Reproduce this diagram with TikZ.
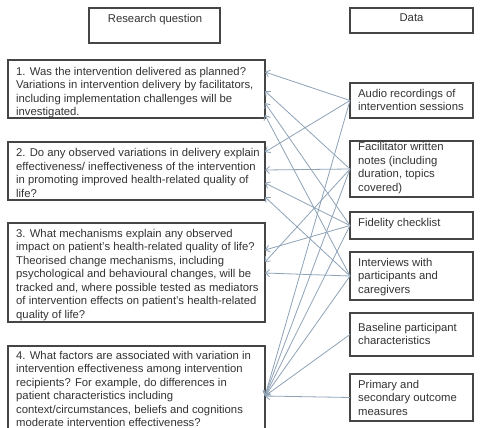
\documentclass[tikz,border=0pt]{standalone}
\usepackage{fontspec}
\setmainfont{Liberation Sans}
\usetikzlibrary{arrows.meta,calc}
\definecolor{boxline}{HTML}{454545}
\definecolor{txtcol}{HTML}{333333}
\definecolor{linkcol}{HTML}{8FA3B7}
\tikzset{
  frame/.style={draw=boxline, line width=1.1pt, inner sep=0pt, outer sep=0pt, anchor=north west},
  txtnode/.style={anchor=north west, inner sep=0pt, align=left, text=txtcol,
    font=\fontsize{11.3}{13.5}\selectfont},
  headtxt/.style={anchor=north, inner sep=0pt, text=txtcol, font=\fontsize{11.3}{13.5}\selectfont},
  link/.style={draw=linkcol, line width=0.8pt, -{Straight Barb[length=4pt,width=7pt]}}
}
\begin{document}
\begin{tikzpicture}[x=1pt,y=-1pt]
\useasboundingbox (0,0) rectangle (483,428);
\clip (0,0) rectangle (483,428);
\fill[white] (0,0) rectangle (483,428);

% column headers
\node[frame, minimum width=131, minimum height=35] (rqbox) at (89,8) {};
\node[headtxt] (rqtxt) at (155,13.8) {Research question};
\node[frame, minimum width=123, minimum height=25] (databox) at (350,8) {};
\node[headtxt] (datatxt) at (411.5,13.8) {Data};

% research questions
\node[frame, minimum width=257, minimum height=58] (q1) at (8,60) {};
\node[txtnode] (q1txt) at (16,66.8) {1. Was the intervention delivered as planned?\\
Variations in intervention delivery by facilitators,\\
including implementation challenges will be\\
investigated.};

\node[frame, minimum width=257, minimum height=58] (q2) at (8,142) {};
\node[txtnode] (q2txt) at (16,148.5) {2. Do any observed variations in delivery explain\\
effectiveness/ ineffectiveness of the intervention\\
in promoting improved health-related quality of\\
life?};

\node[frame, minimum width=257, minimum height=99] (q3) at (8,223) {};
\node[txtnode] (q3txt) at (16,228.8) {3. What mechanisms explain any observed\\
impact on patient’s health-related quality of life?\\
Theorised change mechanisms, including\\
psychological and behavioural changes, will be\\
tracked and, where possible tested as mediators\\
of intervention effects on patient’s health-related\\
quality of life?};

\node[frame, minimum width=257, minimum height=90] (q4) at (8,346) {};
\node[txtnode] (q4txt) at (16,350.8) {4. What factors are associated with variation in\\
intervention effectiveness among intervention\\
recipients? For example, do differences in\\
patient characteristics including\\
context/circumstances, beliefs and cognitions\\
moderate intervention effectiveness?};

% data sources
\node[frame, minimum width=123, minimum height=35] (audio) at (350,83) {};
\node[txtnode] (audiotxt) at (358,88.8) {Audio recordings of\\intervention sessions};

\node[frame, minimum width=123, minimum height=56] (notes) at (350,141) {};
\node[txtnode] (notestxt) at (358,142.5) {Facilitator written\\notes (including\\duration, topics\\covered)};

\node[frame, minimum width=123, minimum height=27] (fidel) at (350,212) {};
\node[txtnode] (fideltxt) at (358,218) {Fidelity checklist};

\node[frame, minimum width=123, minimum height=48] (interv) at (350,252) {};
\node[txtnode] (intervtxt) at (358,257.8) {Interviews with\\participants and\\caregivers};

\node[frame, minimum width=123, minimum height=43] (base) at (350,313) {};
\node[txtnode] (basetxt) at (358,322.8) {Baseline participant\\characteristics};

\node[frame, minimum width=123, minimum height=47] (prim) at (350,374) {};
\node[txtnode] (primtxt) at (358,379.8) {Primary and\\secondary outcome\\measures};

% arrow ends on the question boxes
\coordinate (q1a) at ($(q1.north east)+(0,12)$);
\coordinate (q1b) at ($(q1.north east)+(0,31)$);
\coordinate (q1c) at ($(q1.north east)+(0,43)$);
\coordinate (q1d) at ($(q1.north east)+(0,55)$);
\coordinate (q2a) at ($(q2.north east)+(0,10)$);
\coordinate (q2b) at ($(q2.north east)+(0,28)$);
\coordinate (q2c) at ($(q2.north east)+(0,41)$);
\coordinate (q2d) at ($(q2.north east)+(0,55)$);
\coordinate (q3a) at ($(q3.north east)+(0,27)$);
\coordinate (q3b) at ($(q3.north east)+(0,39)$);
\coordinate (q3c) at ($(q3.north east)+(0,50)$);
\coordinate (q4a) at ($(q4.north east)+(0,50)$);

% links from data sources to questions
\draw[link] (audio.west) -- (q1a);
\draw[link] (audio.west) -- (q2a);
\draw[link] (audio.west) -- (q4a);
\draw[link] (notes.west) -- (q1b);
\draw[link] (notes.west) -- (q2b);
\draw[link] (notes.west) -- (q3b);
\draw[link] (notes.west) -- (q4a);
\draw[link] (fidel.west) -- (q1c);
\draw[link] (fidel.west) -- (q2c);
\draw[link] (fidel.west) -- (q3a);
\draw[link] (fidel.west) -- (q4a);
\draw[link] (interv.west) -- (q1d);
\draw[link] (interv.west) -- (q2d);
\draw[link] (interv.west) -- (q3c);
\draw[link] (interv.west) -- (q4a);
\draw[link] (base.west) -- (q4a);
\draw[link] (prim.west) -- (q4a);
\end{tikzpicture}
\end{document}
